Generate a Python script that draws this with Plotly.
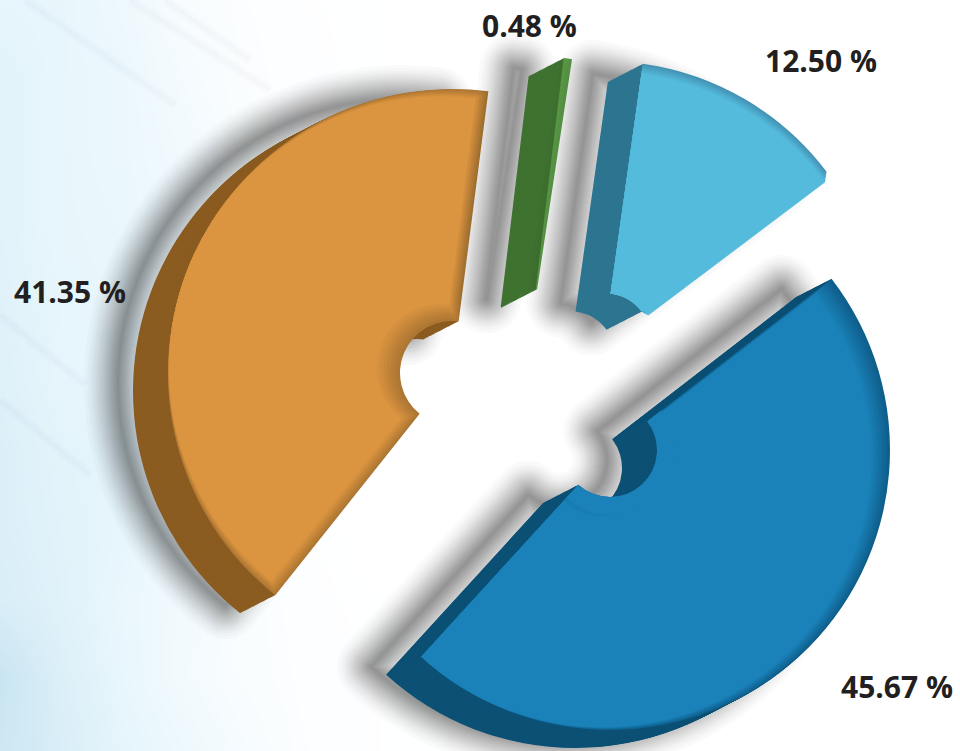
import math
import plotly.graph_objects as go

W, H = 960, 751
categories = ["A", "B", "C", "D"]
shares = [41.35, 0.48, 12.50, 45.67]
labels = ["41.35 %", "0.48 %", "12.50 %", "45.67 %"]
label_x = [69.5, 529.5, 821, 897]
label_y = [291, 25, 60, 686]

# layout of the exploded slices (screen pixels, degrees clockwise from north)
centers = [(452, 373), (530, 336), (604, 340), (610, 450)]
radii = [284, 280, 279, 280]
holes = [52, 47, 47, 47]
starts = [-141.5, 6.9, 8.0, 52.3]
span_scale = [1.0, 1.0, 1.0, 1.0347]   # the source's perspective widens the big slice slightly
face = ["#DB9440", "#5B9B46", "#54BBDD", "#1A82B9"]
edge = ["#AD7733", "#5B9B46", "#4593B4", "#0F5F8C"]
side = ["#8B5C21", "#3F7230", "#2D7590", "#0D5175"]
bevel_dir = [293, 0, 188, 222]
bevel_size = [12, 0, 10, 11]
bevel_arc = [1.0, 0, 0.0, 1.0]
hole_patch = [0, 0, 12, 18]
DEPTH = (-35, 18)
SHADOW = (-15, -8)

bg_x = [0, 60, 120, 180, 240, 300, 360, 420, 480, 960]
bg_y = [0, 75, 150, 225, 300, 375, 450, 525, 600, 675, 751]
bg_z = [
    [.32, .30, .22, .10, .05, .02, .01, 0, 0, 0],
    [.38, .30, .26, .14, .06, .03, .01, 0, 0, 0],
    [.38, .30, .26, .18, .08, .03, .01, 0, 0, 0],
    [.38, .30, .28, .20, .10, .03, .01, 0, 0, 0],
    [.40, .32, .28, .20, .08, .02, .01, 0, 0, 0],
    [.42, .32, .30, .20, .06, .02, 0, 0, 0, 0],
    [.46, .36, .34, .20, .06, .02, 0, 0, 0, 0],
    [.46, .38, .32, .20, .06, .02, 0, 0, 0, 0],
    [.50, .40, .28, .18, .08, .03, .01, 0, 0, 0],
    [.70, .46, .30, .16, .08, .04, .02, .01, 0, 0],
    [.66, .50, .34, .24, .12, .05, .02, .01, 0, 0],
]
streak_starts = [(25, 0), (130, 0), (165, 0), (0, 315), (0, 400)]
streak_ends = [(175, 105), (270, 90), (250, 60), (85, 385), (90, 475)]


def mix(a, b, t):
    ca = [int(a[i:i + 2], 16) for i in (1, 3, 5)]
    cb = [int(b[i:i + 2], 16) for i in (1, 3, 5)]
    return "rgb(%d,%d,%d)" % tuple(round(x + (y - x) * t) for x, y in zip(ca, cb))


def wedge(value, start, cx, cy, r, hole_r, color, line_w=0, line_c=None):
    return go.Pie(
        values=[value, 100 - value],
        rotation=start,
        sort=False,
        direction="clockwise",
        hole=hole_r / r,
        domain=dict(x=[(cx - r) / W, (cx + r) / W], y=[1 - (cy + r) / H, 1 - (cy - r) / H]),
        marker=dict(
            colors=[color, "rgba(0,0,0,0)"],
            line=dict(width=[line_w, 0], color=[line_c or color, "rgba(0,0,0,0)"]),
        ),
        textinfo="none",
        hoverinfo="skip",
        showlegend=False,
    )


fig = go.Figure()
fig.add_trace(go.Heatmap(
    x=bg_x, y=bg_y, z=bg_z, zmin=0, zmax=1, zsmooth="best", showscale=False, hoverinfo="skip",
    colorscale=[[0, "rgb(255,255,255)"], [0.3, "rgb(232,246,252)"], [1, "rgb(178,216,234)"]],
))

for i, share in enumerate(shares):
    v = share * span_scale[i]
    cx, cy, r, s0, hr = *centers[i], radii[i], starts[i], holes[i]
    # soft cast shadow: widening translucent outlines with a smooth falloff
    sx, sy = cx + DEPTH[0] + SHADOW[0], cy + DEPTH[1] + SHADOW[1]
    N = 26
    for k in range(1, N + 1):
        w = 2 * 42 * (1 - math.sqrt(k / (N + 1)))
        fig.add_trace(wedge(v, s0, sx, sy, r, hr, "rgba(0,0,0,0)", w, "rgba(35,35,45,0.024)"))
    # extruded side
    n = 38
    for k in range(n, 0, -1):
        t = k / n
        fig.add_trace(wedge(v, s0, cx + DEPTH[0] * t, cy + DEPTH[1] * t, r, hr, side[i]))
    # face with inner bevel
    fig.add_trace(wedge(v, s0, cx, cy, r, hr, edge[i] if bevel_size[i] else face[i]))
    if bevel_size[i]:
        a = math.radians(bevel_dir[i])
        steps = 7
        for k in range(1, steps + 1):
            s = bevel_size[i] * k / steps
            fig.add_trace(wedge(
                v, s0, cx + s * math.sin(a), cy - s * math.cos(a),
                r - s * bevel_arc[i], hr + s, mix(edge[i], face[i], k / steps),
            ))
    if hole_patch[i]:
        fig.add_trace(wedge(v, s0, cx, cy, hr + hole_patch[i], hr, face[i]))

fig.update_layout(
    width=W, height=H, margin=dict(l=0, r=0, t=0, b=0),
    paper_bgcolor="white", plot_bgcolor="white",
    xaxis=dict(range=[0, W], visible=False, domain=[0, 1]),
    yaxis=dict(range=[H, 0], visible=False, domain=[0, 1]),
    shapes=[
        dict(type="line", x0=a[0], y0=a[1], x1=b[0], y1=b[1], xref="x", yref="y", layer="above",
             line=dict(color="rgba(120,130,170,0.025)", width=w))
        for a, b in zip(streak_starts, streak_ends) for w in (4, 10)
    ],
    annotations=[
        dict(x=x, y=y, xref="x", yref="y", text=f"<b>{t}</b>", showarrow=False,
             font=dict(family="Open Sans", size=30, color="#231F20"))
        for t, x, y in zip(labels, label_x, label_y)
    ],
)
fig.write_html("out.html", config={"displayModeBar": False},
               post_script="document.body.style.margin='0';")
